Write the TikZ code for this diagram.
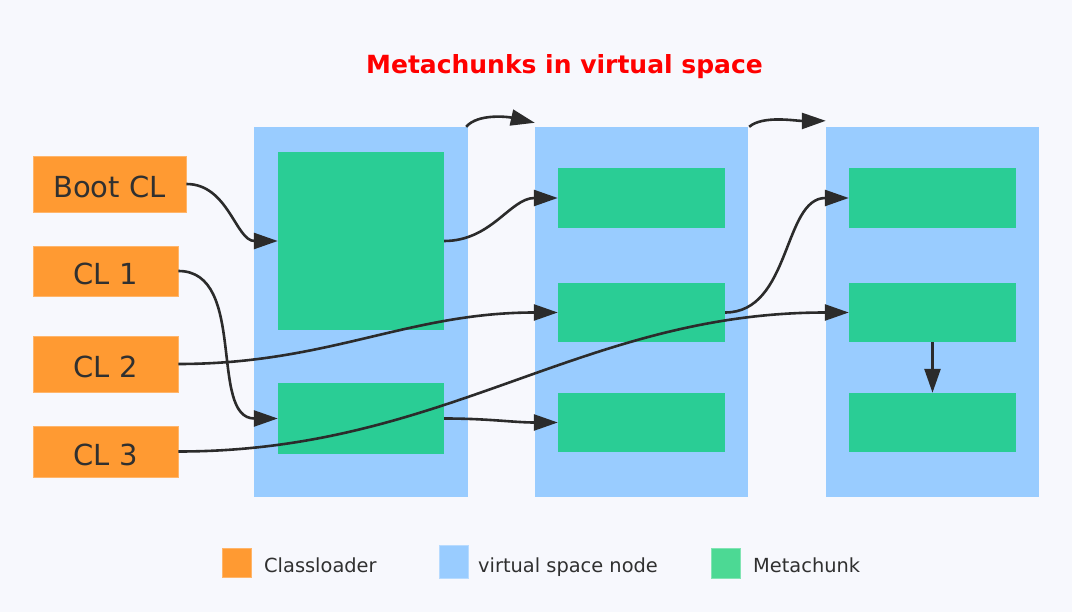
\documentclass[tikz,border=0pt]{standalone}
\usepackage{fontspec}
\setmainfont{DejaVu Sans}
\usetikzlibrary{arrows.meta}
\definecolor{bg}{HTML}{F7F8FD}
\definecolor{clor}{HTML}{FF9A32}
\definecolor{clorb}{HTML}{FFB56A}
\definecolor{vsblue}{HTML}{99CCFF}
\definecolor{mcgreen}{HTML}{2ACD95}
\definecolor{lggreen}{HTML}{4CD994}
\definecolor{txt}{HTML}{303030}
\definecolor{arr}{HTML}{2B2B2B}
\tikzset{
  clbox/.style={fill=clor, draw=clorb, line width=0.8pt, inner sep=0pt, text=txt,
    font=\fontsize{29}{34}\selectfont, text height=28pt, text depth=0pt},
  vsbox/.style={fill=vsblue, draw=none, inner sep=0pt, minimum width=213pt, minimum height=370pt},
  mcbox/.style={fill=mcgreen, draw=none, inner sep=0pt},
  conn/.style={draw=arr, line width=2.6pt, -{Triangle[length=24pt,width=16pt]}},
  lgsq/.style={inner sep=0pt, line width=0.8pt},
  lgtxt/.style={anchor=base west, inner sep=0pt, text=txt, font=\fontsize{19.4}{24}\selectfont}
}
\begin{document}
\begin{tikzpicture}[x=1pt,y=-1pt]
\fill[bg] (0,0) rectangle (1072,612);
\useasboundingbox (0,0) rectangle (1072,612);

% title
\node[anchor=base, inner sep=0pt, text=red, font=\bfseries\fontsize{25}{30}\selectfont] (title) at (564.5,74) {Metachunks in virtual space};

% virtual space nodes
\node[vsbox, minimum width=214pt] (vs1) at (361,312) {};
\node[vsbox] (vs2) at (641.5,312) {};
\node[vsbox] (vs3) at (932.5,312) {};

% metachunks
\node[mcbox, minimum width=166pt, minimum height=178pt] (m1a) at (361,241) {};
\node[mcbox, minimum width=166pt, minimum height=71pt] (m1b) at (361,418.5) {};
\node[mcbox, minimum width=167pt, minimum height=60pt] (m2a) at (641.5,198) {};
\node[mcbox, minimum width=167pt, minimum height=59pt] (m2b) at (641.5,312.5) {};
\node[mcbox, minimum width=167pt, minimum height=59pt] (m2c) at (641.5,422.5) {};
\node[mcbox, minimum width=167pt, minimum height=60pt] (m3a) at (932.5,198) {};
\node[mcbox, minimum width=167pt, minimum height=59pt] (m3b) at (932.5,312.5) {};
\node[mcbox, minimum width=167pt, minimum height=59pt] (m3c) at (932.5,422.5) {};

% classloaders
\node[clbox, minimum width=153pt, minimum height=56pt] (boot) at (109.5,184) {Boot CL};
\node[clbox, minimum width=145pt, minimum height=50pt] (cl1) at (105.5,271) {CL 1};
\node[clbox, minimum width=145pt, minimum height=56pt] (cl2) at (105.5,364) {CL 2};
\node[clbox, minimum width=145pt, minimum height=51pt] (cl3) at (105.5,451.5) {CL 3};

% top connectors
\coordinate (t1s) at ([xshift=-2pt]vs1.north east);
\coordinate (t1e) at ([yshift=4pt]vs2.north west);
\coordinate (t2s) at ([xshift=1pt]vs2.north east);
\coordinate (t2e) at ([yshift=6pt]vs3.north west);
\draw[conn] (t1s) .. controls (478,113) and (509,117) .. (t1e);
\draw[conn] (t2s) .. controls (763,115) and (796,121) .. (t2e);

% connectors
\draw[conn] (boot.east) to[out=0,in=180] (m1a.west);
\draw[conn] (cl1.east) to[out=0,in=180] (m1b.west);
\draw[conn] (cl2.east) to[out=0,in=180] (m2b.west);
\draw[conn] (cl3.east) to[out=0,in=180] (m3b.west);
\draw[conn] (m1a.east) to[out=0,in=180] (m2a.west);
\draw[conn] (m1b.east) to[out=0,in=180] (m2c.west);
\draw[conn] (m2b.east) to[out=0,in=180] (m3a.west);
\draw[conn] (m3b.south) -- (m3c.north);

% legend
\node[lgsq, fill=clor, draw=clorb, minimum width=29pt, minimum height=29pt] (lg1) at (236.5,562.5) {};
\node[lgtxt] (lt1) at (264,572) {Classloader};
\node[lgsq, fill=vsblue, draw=vsblue!70!white, minimum width=29pt, minimum height=33pt] (lg2) at (453.5,561.5) {};
\node[lgtxt] (lt2) at (478,572) {virtual space node};
\node[lgsq, fill=lggreen, draw=lggreen!70!white, minimum width=29pt, minimum height=30pt] (lg3) at (725.5,563) {};
\node[lgtxt] (lt3) at (753,572) {Metachunk};
\end{tikzpicture}
\end{document}
